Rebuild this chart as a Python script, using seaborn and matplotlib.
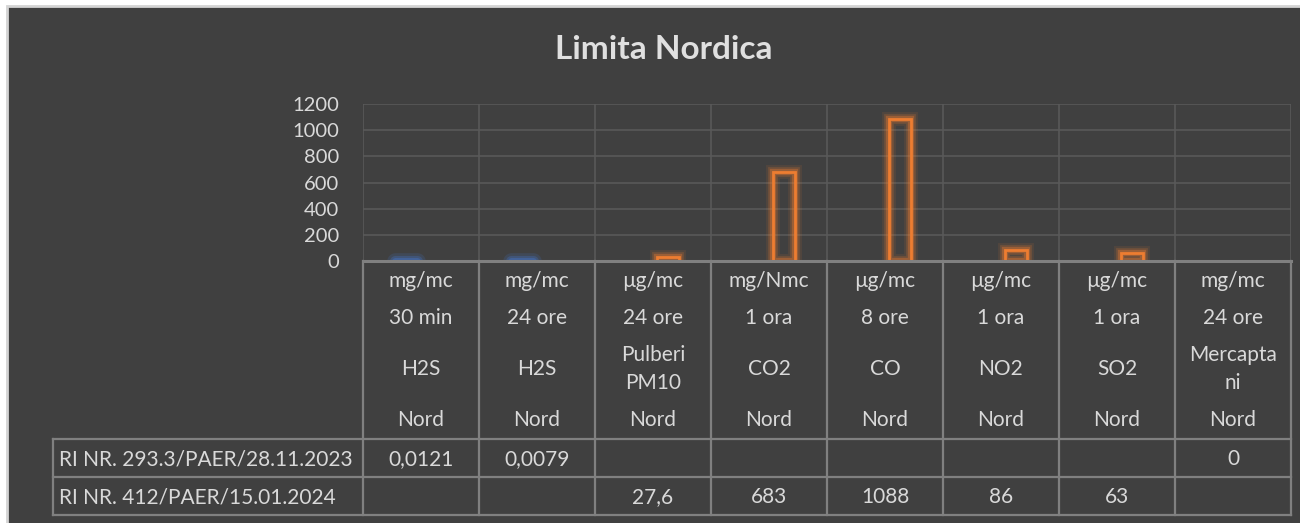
import matplotlib
matplotlib.use('Agg')
import matplotlib.pyplot as plt
import matplotlib.patheffects as pe
import matplotlib.transforms as mtransforms
from matplotlib.lines import Line2D
from matplotlib.patches import Rectangle
import seaborn as sns
import pandas as pd
import numpy as np

# --- data ---
title = 'Limita Nordica'
units = ['mg/mc', 'mg/mc', 'µg/mc', 'mg/Nmc', 'µg/mc', 'µg/mc', 'µg/mc', 'mg/mc']
periods = ['30 min', '24 ore', '24 ore', '1 ora', '8 ore', '1 ora', '1 ora', '24 ore']
pollutants = ['H2S', 'H2S', 'Pulberi\nPM10', 'CO2', 'CO', 'NO2', 'SO2', 'Mercapta\nni']
zones = ['Nord', 'Nord', 'Nord', 'Nord', 'Nord', 'Nord', 'Nord', 'Nord']
series_names = ['RI NR. 293.3/PAER/28.11.2023', 'RI NR. 412/PAER/15.01.2024']
values_1 = [0.0121, 0.0079, np.nan, np.nan, np.nan, np.nan, np.nan, 0]
values_2 = [np.nan, np.nan, 27.6, 683, 1088, 86, 63, np.nan]
colors = ['#4472C4', '#ED7D31']

cats = [f'c{i}' for i in range(len(units))]
df = pd.DataFrame({
    'cat': cats * 2,
    'series': [series_names[0]] * len(cats) + [series_names[1]] * len(cats),
    'value': values_1 + values_2,
})

BG = '#404040'
TXT = '#d9d9d9'
GRID = '#595959'
TABLE = '#808080'
W, H = 1300, 523

plt.rcParams['font.family'] = ['Lato', 'DejaVu Sans']

fig = plt.figure(figsize=(W / 100, H / 100), dpi=100, facecolor='white')
fig.patches.append(Rectangle((7 / W, -0.1), 1.2, 1.1 - 6 / H, transform=fig.transFigure,
                             facecolor=BG, edgecolor='#d4d4d4', linewidth=2, zorder=-10))


def fy(px):
    return 1 - px / H


ax = fig.add_axes([363 / W, fy(261), 928 / W, 157 / H])
ax.set_facecolor('none')

sns.barplot(data=df, x='cat', y='value', hue='series', order=cats, hue_order=series_names,
            palette=colors, width=0.534, gap=0.29, fill=False, linewidth=2,
            legend=False, errorbar=None, ax=ax)

# soft glow round the bars
for p in ax.patches:
    h = p.get_height()
    if np.isnan(h) or h <= 0:
        p.set_visible(False)
        continue
    c = p.get_edgecolor()
    if h < 1:
        # near-zero bars only show as a blurred blob
        p.set_joinstyle('round')
        p.set_capstyle('round')
        p.set_path_effects([pe.Stroke(linewidth=12, foreground=c, alpha=0.18, joinstyle='round'),
                            pe.Stroke(linewidth=8, foreground=c, alpha=0.3, joinstyle='round'),
                            pe.Stroke(linewidth=5, foreground=c, alpha=0.45, joinstyle='round')])
    else:
        p.set_path_effects([pe.Stroke(linewidth=10, foreground=c, alpha=0.1),
                            pe.Stroke(linewidth=7, foreground=c, alpha=0.2),
                            pe.Stroke(linewidth=4.5, foreground=c, alpha=0.35),
                            pe.Normal()])

ax.set_xlim(-0.5, len(cats) - 0.5)
ax.set_ylim(0, 1200)
ax.set_yticks(range(0, 1201, 200))
ax.set_xlabel('')
ax.set_ylabel('')
ax.tick_params(axis='y', length=0, pad=17, labelsize=14.5, labelcolor=TXT)
ax.tick_params(axis='x', length=0, labelbottom=False)
for s in ax.spines.values():
    s.set_visible(False)
ax.yaxis.grid(True, color=GRID, linewidth=1.2)
ax.set_axisbelow(True)
for b in np.arange(len(cats) + 1) - 0.5:
    ax.axvline(b, color=GRID, linewidth=1.2, zorder=0)

# title
fig.text(664 / W, fy(49), title, ha='center', va='center', fontsize=24,
         fontweight='bold', color='#e0e0e0')

# data table under the axis
tr = mtransforms.blended_transform_factory(ax.transData, fig.transFigure)
lw = 1.6
ax.add_line(Line2D([-0.5, len(cats) - 0.5], [fy(261)] * 2, transform=tr, color=TABLE,
                   linewidth=2.2, clip_on=False))
for b in np.arange(len(cats) + 1) - 0.5:
    ax.add_line(Line2D([b, b], [fy(261), fy(515)], transform=tr, color=TABLE,
                       linewidth=lw, clip_on=False))
for ypx in [439, 477, 515]:
    fig.add_artist(Line2D([53 / W, 1291 / W], [fy(ypx)] * 2, color=TABLE, linewidth=lw))
fig.add_artist(Line2D([53 / W] * 2, [fy(439), fy(515)], color=TABLE, linewidth=lw))

fs = 15
for i in range(len(cats)):
    ax.text(i, fy(281), units[i], transform=tr, ha='center', va='center', fontsize=fs, color=TXT)
    ax.text(i, fy(318), periods[i], transform=tr, ha='center', va='center', fontsize=fs, color=TXT)
    ax.text(i, fy(369), pollutants[i], transform=tr, ha='center', va='center', fontsize=fs,
            color=TXT, linespacing=1.55)
    ax.text(i, fy(420), zones[i], transform=tr, ha='center', va='center', fontsize=fs, color=TXT)


def fmt(v):
    return '' if np.isnan(v) else f'{v:g}'.replace('.', ',')


for row, (name, vals) in enumerate(zip(series_names, [values_1, values_2])):
    ypx = 459 + 38 * row
    fig.text(59 / W, fy(ypx), name, ha='left', va='center', fontsize=fs, color=TXT)
    for i, v in enumerate(vals):
        ax.text(i, fy(ypx), fmt(v), transform=tr, ha='center', va='center', fontsize=fs, color=TXT)

fig.savefig('out.png', dpi=100, facecolor=fig.get_facecolor())
